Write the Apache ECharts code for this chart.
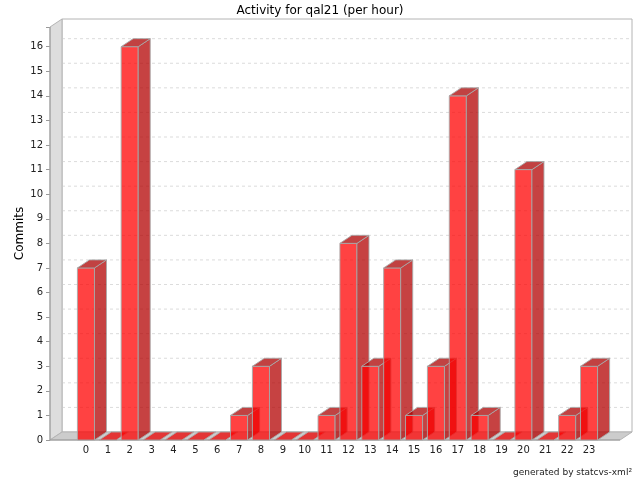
<!DOCTYPE html>
<html>
<head>
<meta charset="utf-8">
<script src="https://cdn.jsdelivr.net/npm/echarts@6/dist/echarts.min.js"></script>
<style>html,body{margin:0;padding:0;background:#fff}#c{width:640px;height:480px}</style>
</head>
<body>
<div id="c"></div>
<script>
var hours = ['0','1','2','3','4','5','6','7','8','9','10','11','12','13','14','15','16','17','18','19','20','21','22','23'];
var commits = [7,0,16,0,0,0,0,1,3,0,0,1,8,3,7,1,3,14,1,0,11,0,1,3];
var yTicks = [0,1,2,3,4,5,6,7,8,9,10,11,12,13,14,15,16];

var DX = 12, DY = -8;
var FONT = 'DejaVu Sans';
var chart = echarts.init(document.getElementById('c'));

function frameRender(params, api) {
  var cs = params.coordSys;
  var y0 = api.coord([0, 0])[1];
  var yTop = cs.y;
  var xl = cs.x - 25, xr = cs.x + cs.width + 20;
  var children = [];
  children.push({type:'polygon', shape:{points:[[xl+DX,yTop+DY],[xr+DX,yTop+DY],[xr+DX,y0+DY],[xl+DX,y0+DY]]},
    style:{fill:'#ffffff', stroke:'#b4b4b4', lineWidth:1}});
  yTicks.forEach(function(v){
    if (v === 0) return;
    var y = api.coord([0, v])[1] + DY;
    children.push({type:'line', shape:{x1:xl+DX, y1:y, x2:xr+DX, y2:y},
      style:{stroke:'#dcdcdc', lineWidth:1, lineDash:[3,3]}});
  });
  children.push({type:'polygon', shape:{points:[[xl,yTop],[xl+DX,yTop+DY],[xl+DX,y0+DY],[xl,y0]]},
    style:{fill:'#dddddd', stroke:'#b4b4b4', lineWidth:1}});
  children.push({type:'polygon', shape:{points:[[xl,y0],[xl+DX,y0+DY],[xr+DX,y0+DY],[xr,y0]]},
    style:{fill:'#cccccc', stroke:'#b4b4b4', lineWidth:1}});
  children.push({type:'line', shape:{x1:xl, y1:y0, x2:xr, y2:y0}, style:{stroke:'#9a9a9a', lineWidth:1}});
  children.push({type:'line', shape:{x1:xl, y1:yTop, x2:xl, y2:y0}, style:{stroke:'#9a9a9a', lineWidth:1}});
  return {type:'group', children:children, silent:true};
}

function barRender(params, api) {
  var i = api.value(0), v = api.value(1);
  var base = api.coord([i, 0]);
  var top = api.coord([i, v]);
  var bw = api.size([1, 0])[0] * 0.78;
  var x0 = base[0] - bw / 2, x1 = x0 + bw;
  var yb = base[1], yt = top[1];
  var line = 'rgba(170,170,170,0.9)';
  var ch = [];
  if (v > 0) {
    ch.push({type:'polygon', shape:{points:[[x0,yt],[x1,yt],[x1,yb],[x0,yb]]},
      style:{fill:'rgba(255,0,0,0.74)', stroke:line, lineWidth:1}});
    ch.push({type:'polygon', shape:{points:[[x1,yt],[x1+DX,yt+DY],[x1+DX,yb+DY],[x1,yb]]},
      style:{fill:'rgba(178,0,0,0.74)', stroke:line, lineWidth:1}});
    ch.push({type:'polygon', shape:{points:[[x0,yt],[x0+DX,yt+DY],[x1+DX,yt+DY],[x1,yt]]},
      style:{fill:'rgba(172,0,0,0.74)', stroke:line, lineWidth:1}});
  } else {
    ch.push({type:'polygon', shape:{points:[[x0,yb],[x0+DX,yb+DY],[x1+DX,yb+DY],[x1,yb]]},
      style:{fill:'rgba(235,0,0,0.74)', stroke:line, lineWidth:1}});
  }
  return {type:'group', children:ch};
}

var barData = commits.map(function(v, i){ return [i, v]; });

chart.setOption({
  animation: false,
  backgroundColor: '#ffffff',
  title: {text:'Activity for qal21 (per hour)', left:'center', top:0,
    textStyle:{fontFamily:FONT, fontSize:12, fontWeight:'normal', color:'#000'}},
  grid: {left:75, right:40, top:27, bottom:40},
  xAxis: {type:'category', data:hours, boundaryGap:true,
    axisLine:{show:false}, axisTick:{show:false},
    axisLabel:{fontFamily:FONT, fontSize:10, color:'#222', margin:5, interval:0}},
  yAxis: {type:'value', min:0, max:16.8, interval:1, offset:25,
    name:'Commits', nameLocation:'middle', nameGap:24, nameRotate:90, nameMoveOverlap:false,
    nameTextStyle:{fontFamily:FONT, fontSize:12, color:'#000'},
    axisLine:{show:false}, splitLine:{show:false},
    axisTick:{show:true, length:4, lineStyle:{color:'#9a9a9a'}},
    axisLabel:{fontFamily:FONT, fontSize:10, color:'#222', margin:7,
      formatter:function(v){ return (Math.abs(v - Math.round(v)) < 1e-6) ? String(Math.round(v)) : ''; }}},
  graphic: [{type:'text', right:8, bottom:3,
    style:{text:'generated by statcvs-xml\u00b2', fontFamily:FONT, fontSize:9, fill:'#222'}}],
  series: [
    {type:'custom', renderItem:frameRender, data:[[0,0]], silent:true, z:1, clip:false},
    {type:'custom', renderItem:barRender, data:barData, encode:{x:0, y:1}, z:2, clip:false}
  ]
});
</script>
</body>
</html>
